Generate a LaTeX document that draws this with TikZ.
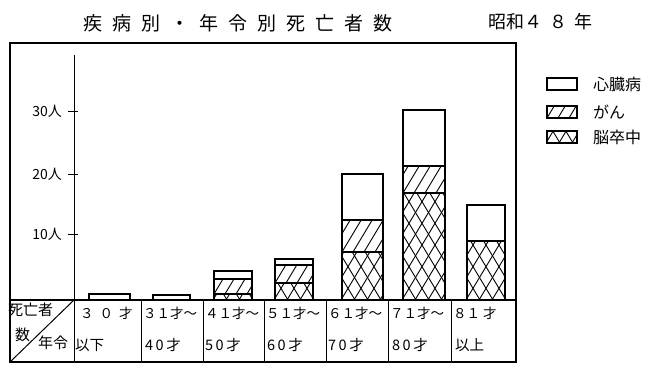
\documentclass[tikz,border=0pt]{standalone}
\usepackage{fontspec}
\setmainfont{Noto Sans CJK JP}
\newcommand{\tsp}{\hspace{10pt}}
\newcommand{\hatchR}[4]{%
 \begin{scope}
  \clip (#1,#2) rectangle (#3,#4);
  \foreach \i in {0,...,12} \draw[hatchline] ({#1-66+\i*11},{#4}) -- ++(66,-110);
 \end{scope}}
\newcommand{\hatchX}[4]{%
 \begin{scope}
  \clip (#1,#2) rectangle (#3,#4);
  \foreach \i in {0,...,12} {
   \draw[hatchline] ({#1-66+\i*13},{#4}) -- ++(66,-110);
   \draw[hatchline] ({#1+\i*13},{#4}) -- ++(-66,-110);
  }
 \end{scope}}
\begin{document}
\begin{tikzpicture}[x=1pt,y=-1pt,
  frameline/.style={line width=1.6pt},
  barline/.style={line width=1.5pt},
  thinline/.style={line width=1pt},
  hatchline/.style={line width=0.9pt},
  lbl/.style={inner sep=0pt,anchor=west,font=\fontsize{13.5}{14}\selectfont},
  lbltwo/.style={inner sep=0pt,anchor=west,font=\fontsize{14.5}{15}\selectfont},
  ylab/.style={inner sep=0pt,anchor=east,font=\fontsize{14}{14}\selectfont},
  leg/.style={inner sep=0pt,anchor=west,font=\fontsize{16}{16}\selectfont},
  legbox/.style={line width=1.1pt}]
\useasboundingbox (0,0) rectangle (655,365);
% titles
\node[inner sep=0pt,anchor=west,font=\fontsize{19}{19}\selectfont] (title) at (83,23)
  {疾\tsp 病\tsp 別\tsp ・\tsp 年\tsp 令\tsp 別\tsp 死\tsp 亡\tsp 者\tsp 数};
\node[inner sep=0pt,anchor=west,font=\fontsize{18}{18}\selectfont] (year) at (488,22)
  {昭和４\hspace{7pt}８\hspace{7pt}年};
% frame and table
\draw[frameline] (10,43) rectangle (516,362);
\draw[frameline] (10,300) -- (516,300);
\draw[thinline] (74,55) -- (74,362);
\foreach \x in {141,203,264,326,388,451} \draw[thinline] (\x,300) -- (\x,362);
\draw[thinline] (74,300) -- (10,362);
% y ticks
\foreach \y/\t in {111/30,174/20,234/10} {
  \draw[thinline] (68,\y) -- (78,\y);
  \node[ylab] (y\t) at (62,\y) {\t 人};
}
% bars
\draw[barline] (89,294) rectangle (130,300);
\draw[barline] (153,295) rectangle (190,300);
% 41-50
\hatchX{214}{294}{252}{300}
\hatchR{214}{279}{252}{294}
\draw[barline] (214,271) rectangle (252,300);
\draw[barline] (214,279) -- (252,279);
\draw[barline] (214,294) -- (252,294);
% 51-60
\hatchX{275}{283}{313}{300}
\hatchR{275}{265}{313}{283}
\draw[barline] (275,259) rectangle (313,300);
\draw[barline] (275,265) -- (313,265);
\draw[barline] (275,283) -- (313,283);
% 61-70
\hatchX{342}{252}{383}{300}
\hatchR{342}{220}{383}{252}
\draw[barline] (342,174) rectangle (383,300);
\draw[barline] (342,220) -- (383,220);
\draw[barline] (342,252) -- (383,252);
% 71-80
\hatchX{403}{193}{445}{300}
\hatchR{403}{166}{445}{193}
\draw[barline] (403,110) rectangle (445,300);
\draw[barline] (403,166) -- (445,166);
\draw[barline] (403,193) -- (445,193);
% 81+
\hatchX{467}{241}{505}{300}
\draw[barline] (467,205) rectangle (505,300);
\draw[barline] (467,241) -- (505,241);
% legend
\draw[legbox] (547,78) rectangle (577,90);
\node[leg] (l1) at (593,84) {心臓病};
\hatchR{547}{106}{577}{118}
\draw[legbox] (547,106) rectangle (577,118);
\node[leg] (l2) at (593,112) {がん};
\hatchX{547}{131}{577}{143}
\draw[legbox] (547,131) rectangle (577,143);
\node[leg] (l3) at (593,137) {脳卒中};
% table header cell
\node[inner sep=0pt,anchor=west,font=\fontsize{15}{15}\selectfont] (h1) at (8,310) {死亡者};
\node[inner sep=0pt,anchor=west,font=\fontsize{15}{15}\selectfont] (h2) at (15,335) {数};
\node[inner sep=0pt,anchor=west,font=\fontsize{15}{15}\selectfont] (h3) at (38,343) {年令};
% column labels
\node[lbl] (a1) at (80,313) {３\hspace{6pt}０\hspace{6pt}才};
\node[lbltwo] (a2) at (75,345) {以下};
\node[lbl] (b1) at (143,313) {３１才～};
\node[lbltwo] (b2) at (145,345) {4\kern2.5pt 0\kern2.5pt 才};
\node[lbl] (c1) at (205,313) {４１才～};
\node[lbltwo] (c2) at (205,345) {5\kern2.5pt 0\kern2.5pt 才};
\node[lbl] (d1) at (266,313) {５１才～};
\node[lbltwo] (d2) at (267,345) {6\kern2.5pt 0\kern2.5pt 才};
\node[lbl] (e1) at (328,313) {６１才～};
\node[lbltwo] (e2) at (328,345) {7\kern2.5pt 0\kern2.5pt 才};
\node[lbl] (f1) at (390,313) {７１才～};
\node[lbltwo] (f2) at (392,345) {8\kern2.5pt 0\kern2.5pt 才};
\node[lbl] (g1) at (453,313) {８１\hspace{3pt}才};
\node[lbltwo] (g2) at (455,345) {以上};
\end{tikzpicture}
\end{document}
